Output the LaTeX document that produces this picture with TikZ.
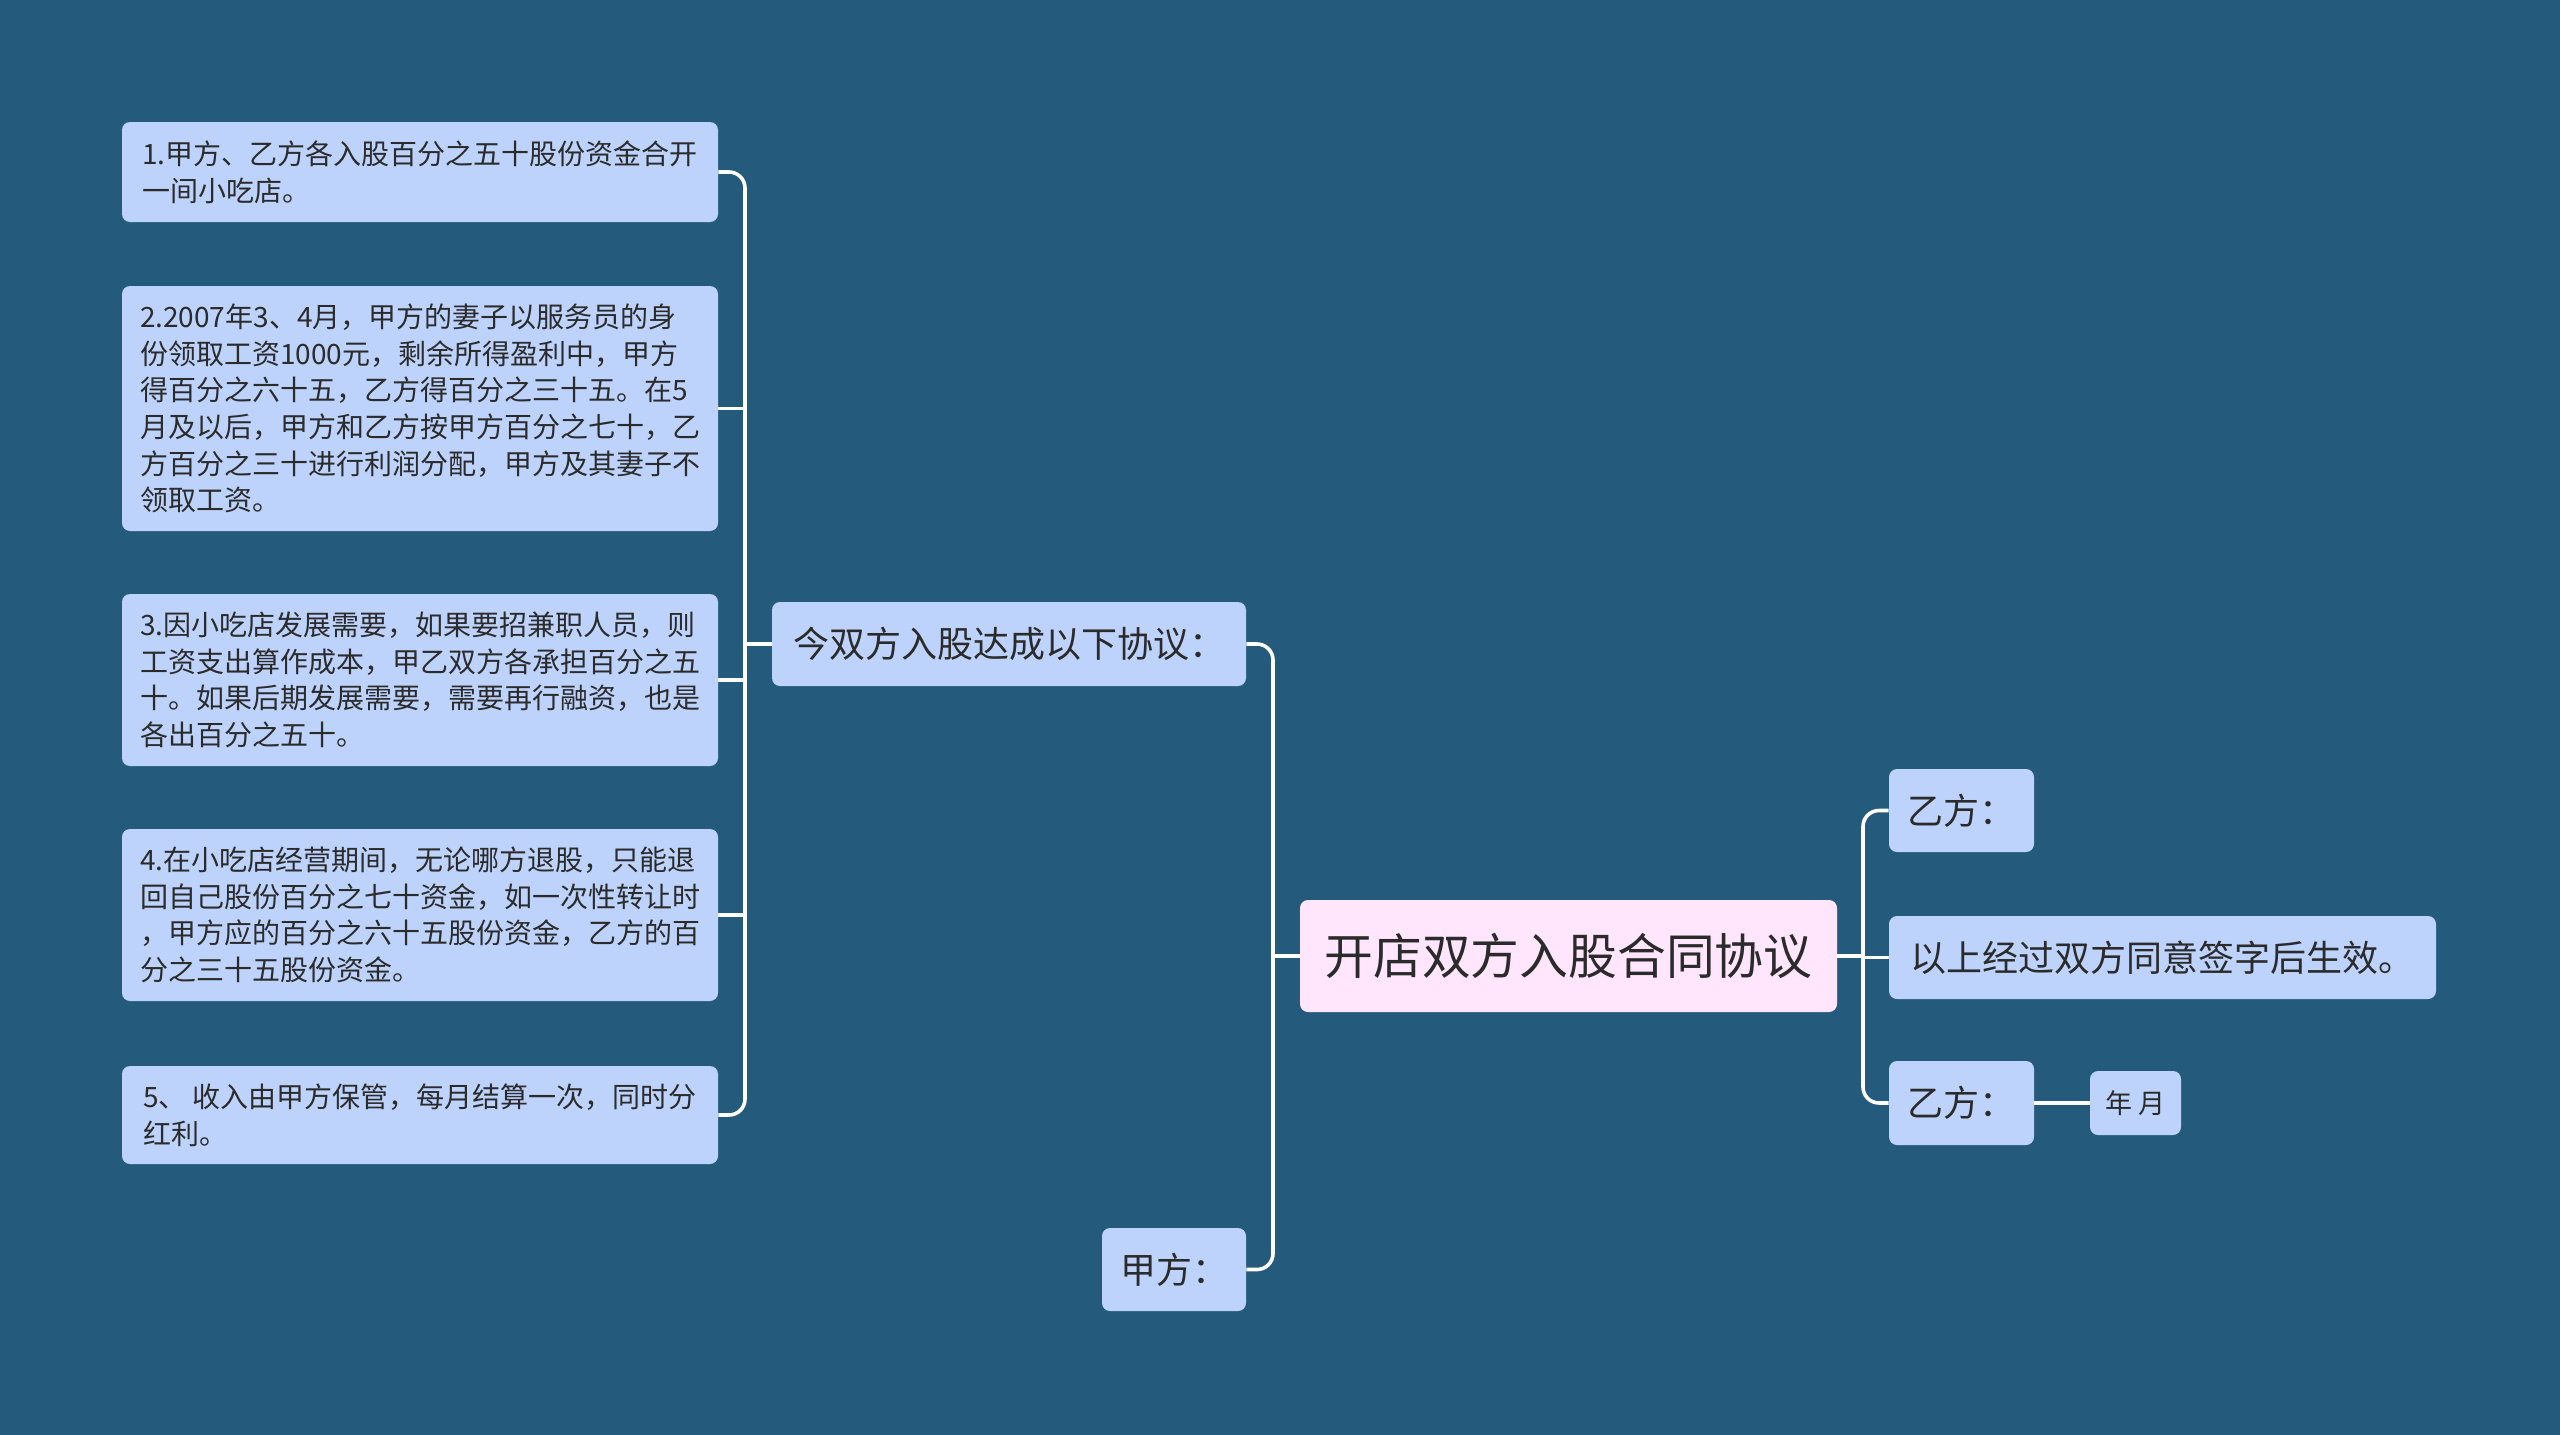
\documentclass[tikz,border=0pt]{standalone}
\usepackage{fontspec}
\setmainfont{Noto Sans CJK SC}
\definecolor{bg}{HTML}{245A7C}
\definecolor{boxblue}{HTML}{BDD3FC}
\definecolor{rootpink}{HTML}{FFE6FD}
\definecolor{txt}{HTML}{2B2B2B}
\tikzset{
  leafbox/.style={fill=boxblue, rounded corners=4pt, text=txt, align=left, inner sep=0pt,
    minimum width=298pt, font=\fontsize{14pt}{18.3pt}\selectfont},
  midbox/.style={fill=boxblue, rounded corners=4pt, text=txt, inner sep=0pt,
    minimum height=41.5pt, font=\fontsize{18pt}{22pt}\selectfont},
  rootbox/.style={fill=rootpink, rounded corners=4pt, text=txt, inner sep=0pt,
    minimum width=268.5pt, minimum height=56pt, font=\fontsize{24.4pt}{28pt}\selectfont},
  smallbox/.style={fill=boxblue, rounded corners=4pt, text=txt, inner sep=0pt,
    minimum width=45.5pt, minimum height=32pt, font=\fontsize{13.5pt}{16pt}\selectfont},
  conn/.style={draw=white, line width=1.8pt, rounded corners=8pt}
}
\begin{document}
\begin{tikzpicture}[x=0.5pt, y=-0.5pt]
\fill[bg] (0,0) rectangle (2560,1435);
\useasboundingbox (0,0) rectangle (2560,1435);

% left leaf boxes
\node[leafbox, minimum height=50pt] (b1) at (420,172)
  {1.甲方、乙方各入股百分之五十股份资金合开\\一间小吃店。};
\node[leafbox, minimum height=122.5pt] (b2) at (420,408.5)
  {2.2007年3、4月，甲方的妻子以服务员的身\\份领取工资1000元，剩余所得盈利中，甲方\\得百分之六十五，乙方得百分之三十五。在5\\月及以后，甲方和乙方按甲方百分之七十，乙\\方百分之三十进行利润分配，甲方及其妻子不\\领取工资。};
\node[leafbox, minimum height=86pt] (b3) at (420,680)
  {3.因小吃店发展需要，如果要招兼职人员，则\\工资支出算作成本，甲乙双方各承担百分之五\\十。如果后期发展需要，需要再行融资，也是\\各出百分之五十。};
\node[leafbox, minimum height=86pt] (b4) at (420,915)
  {4.在小吃店经营期间，无论哪方退股，只能退\\回自己股份百分之七十资金，如一次性转让时\\，甲方应的百分之六十五股份资金，乙方的百\\分之三十五股份资金。};
\node[leafbox, minimum height=49pt] (b5) at (420,1115)
  {5、~收入由甲方保管，每月结算一次，同时分\\红利。};

% middle nodes
\node[midbox, minimum width=237pt, minimum height=42pt] (p1) at (1009,644) {今双方入股达成以下协议：};
\node[midbox, minimum width=72pt] (jia) at (1174,1269.5) {甲方：};
\node[rootbox] (root) at (1568.5,956) {开店双方入股合同协议};

% right nodes
\node[midbox, minimum width=72.5pt] (y1) at (1961.5,810.5) {乙方：};
\node[midbox, minimum width=273.5pt] (ys) at (2162.5,957.5) {以上经过双方同意签字后生效。};
\node[midbox, minimum width=72.5pt, minimum height=42pt] (y2) at (1961.5,1103) {乙方：};
\node[smallbox] (nian) at (2135.5,1103) {年 月};

% trunk coordinates
\coordinate (lx2) at (745,0);
\coordinate (lx) at (1273,0);
\coordinate (rx) at (1863,0);

% left bracket
\draw[conn] (b1.east) -| (b5.east -| lx2) -- (b5.east);
\draw[conn] (b2.east) -- (b2.east -| lx2);
\draw[conn] (b3.east) -- (b3.east -| lx2);
\draw[conn] (b4.east) -- (b4.east -| lx2);
\draw[conn] (p1.west) -- (p1.west -| lx2);

% root left
\draw[conn] (p1.east) -| (jia.east -| lx) -- (jia.east);
\draw[conn] (root.west) -- (root.west -| lx);

% root right
\draw[conn] (y1.west) -| (y2.west -| rx) -- (y2.west);
\draw[conn] (root.east) -- (root.east -| rx);
\draw[conn] (ys.west) -- (ys.west -| rx);
\draw[conn] (y2.east) -- (nian.west);
\end{tikzpicture}
\end{document}
